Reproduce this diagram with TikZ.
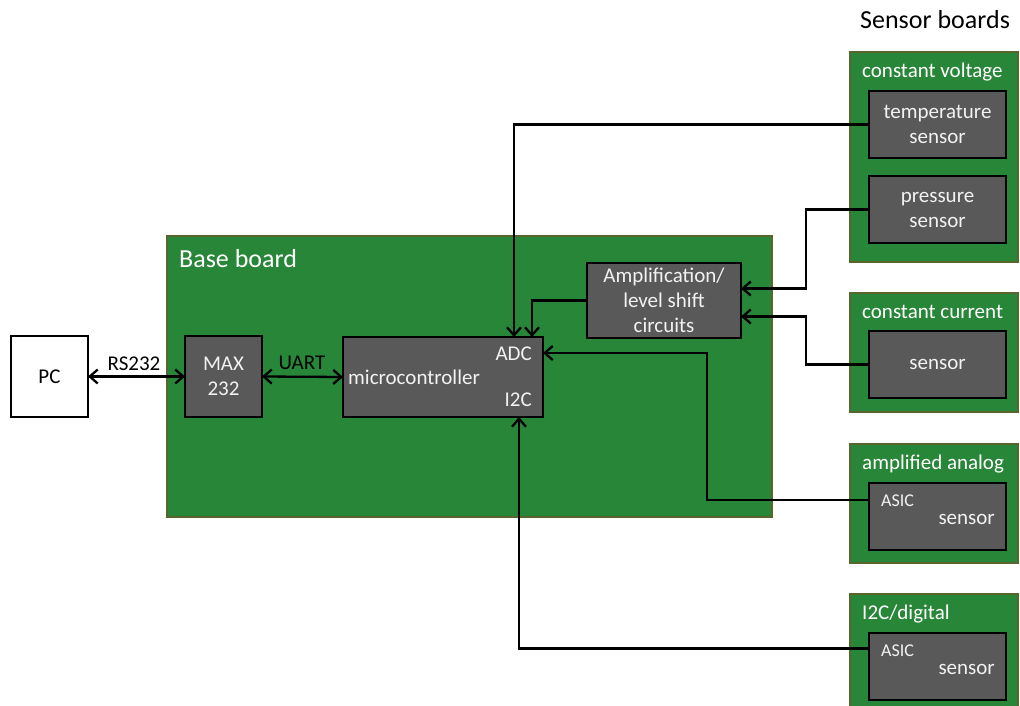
\documentclass[tikz,border=0pt]{standalone}
\usepackage{fontspec}
\setmainfont{Carlito}
\usetikzlibrary{arrows.meta}
\definecolor{boardgreen}{RGB}{40,134,56}
\definecolor{boardedge}{RGB}{88,102,46}
\definecolor{chipgrey}{RGB}{89,89,89}
\definecolor{chiptext}{RGB}{242,242,242}
\begin{document}
\begin{tikzpicture}[x=1pt,y=-1pt,
  board/.style={draw=boardedge, fill=boardgreen, line width=2.2pt, inner sep=0pt, outer sep=0pt, anchor=north west},
  chip/.style={draw=black, fill=chipgrey, line width=2.6pt, text=chiptext, align=center, inner sep=0pt, outer sep=0pt, anchor=north west, font=\fontsize{21}{25}\selectfont},
  whitebox/.style={chip, fill=white, text=black},
  boardlabel/.style={text=white, anchor=base west, inner sep=0pt, font=\fontsize{21}{25}\selectfont},
  biglabel/.style={anchor=base west, inner sep=0pt, font=\fontsize{26}{30}\selectfont},
  chiplabel/.style={text=chiptext, inner sep=0pt, font=\fontsize{21}{25}\selectfont},
  smallchiplabel/.style={text=chiptext, inner sep=0pt, font=\fontsize{18}{22}\selectfont},
  linklabel/.style={anchor=base, inner sep=0pt, font=\fontsize{21}{25}\selectfont},
  tipb/.tip={Straight Barb[length=8pt,width=14pt]},
  conn/.style={draw=black, line width=2.3pt, -tipb},
  dconn/.style={draw=black, line width=2.3pt, tipb-tipb}
]
\useasboundingbox (0,0) rectangle (1020,706);

% title
\node[biglabel] (sbtitle) at (860,29) {Sensor boards};

% base board
\node[board, minimum width=605, minimum height=281] (base) at (167,236) {};
\node[biglabel, text=white] (basetitle) at (179,267) {Base board};

% PC, MAX232, microcontroller, amplification
\node[whitebox, minimum width=77, minimum height=81] (pc) at (11,336) {PC};
\node[chip, minimum width=77, minimum height=81] (max) at (185,336) {MAX\\232};
\node[chip, minimum width=200, minimum height=80] (mc) at (343,337) {};
\node[chiplabel, anchor=base west] (mctext) at (348,384) {microcontroller};
\node[chiplabel, anchor=base east] (adc) at (532,360) {ADC};
\node[chiplabel, anchor=base east] (iic) at (532,406) {I2C};
\node[chip, minimum width=154, minimum height=75] (amp) at (587,263) {Amplification/\\level shift\\circuits};

% sensor boards
\node[board, minimum width=168, minimum height=210] (cvb) at (850,52) {};
\node[boardlabel] (cvl) at (862,78) {constant voltage};
\node[chip, minimum width=137, minimum height=67] (temp) at (869,91) {temperature\\sensor};
\node[chip, minimum width=137, minimum height=67] (press) at (869,176) {pressure\\sensor};

\node[board, minimum width=168, minimum height=119] (ccb) at (850,293) {};
\node[boardlabel] (ccl) at (862,318) {constant current};
\node[chip, minimum width=137, minimum height=67] (sen) at (869,331) {sensor};

\node[board, minimum width=168, minimum height=119] (aab) at (850,444) {};
\node[boardlabel] (aal) at (862,469) {amplified analog};
\node[chip, minimum width=137, minimum height=67] (asa) at (869,483) {};
\node[smallchiplabel, anchor=base west] (asaa) at (881,506) {ASIC};
\node[chiplabel, anchor=base east] (asas) at (995,524) {sensor};

\node[board, minimum width=168, minimum height=140] (i2cb) at (850,594) {};
\node[boardlabel] (i2cl) at (862,619) {I2C/digital};
\node[chip, minimum width=137, minimum height=67] (asd) at (869,633) {};
\node[smallchiplabel, anchor=base west] (asda) at (881,656) {ASIC};
\node[chiplabel, anchor=base east] (asds) at (995,674) {sensor};

% connectors
\draw[dconn] (pc.east) -- (max.west);
\node[linklabel] (rs) at (134,370) {RS232};
\draw[dconn] (max.east) -- (mc.west);
\node[linklabel] (uart) at (302,369) {UART};

\draw[conn] (temp.west) -| ([xshift=71pt]mc.north);
\draw[conn] (amp.west) -| ([xshift=89pt]mc.north);
\draw[conn] (press.west) -- ++(-63,0) |- ([yshift=12pt]amp.east);
\draw[conn] (sen.west) -- ++(-63,0) |- ([yshift=-16pt]amp.east);
\draw[conn] ([yshift=16.5pt]asa.west) -- ++(-162,0) |- ([yshift=24pt]mc.east);
\draw[conn] ([yshift=18pt]asd.west) -| ([xshift=76pt]mc.south);
\end{tikzpicture}
\end{document}
